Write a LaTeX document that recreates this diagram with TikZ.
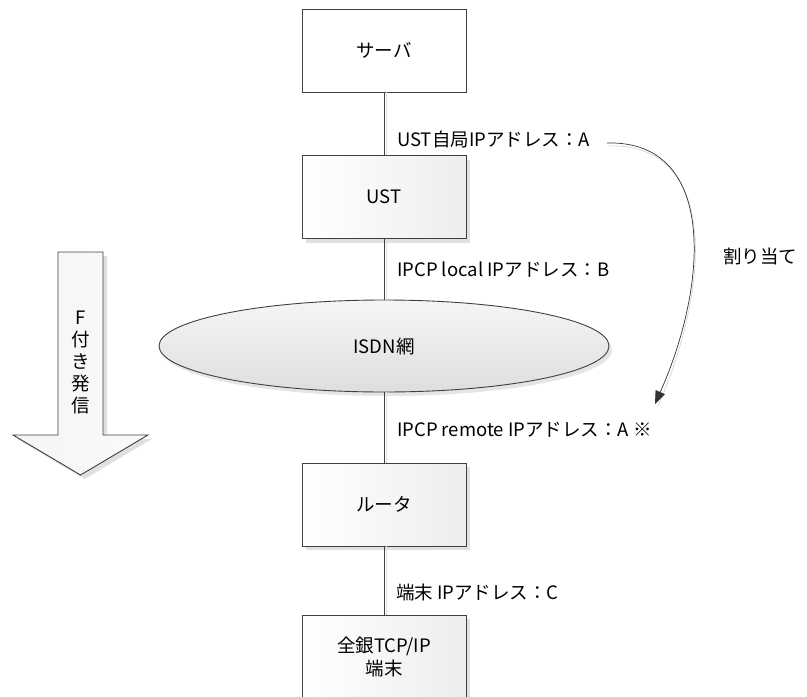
\documentclass[tikz,border=0pt]{standalone}
\usepackage{fontspec}
\setmainfont{Noto Sans CJK JP}
\usetikzlibrary{shapes.geometric,shadows,arrows.meta}
\definecolor{edge}{HTML}{404040}
\tikzset{
  box/.style={draw=edge, line width=0.9pt, minimum width=164pt, minimum height=83pt,
    left color=white, right color=black!7, inner sep=2pt, align=center,
    drop shadow={shadow xshift=4pt, shadow yshift=-4pt, fill=black!12, opacity=1}},
  plainbox/.style={draw=edge, line width=0.9pt, minimum width=164pt, minimum height=83pt, fill=white, align=center},
  lbl/.style={anchor=west, inner sep=0pt},
  link/.style={draw=edge, line width=0.8pt,
    preaction={draw=black!12, line width=0.8pt, transform canvas={xshift=2pt}}},
  txt/.style={font=\fontsize{18.5}{22}\selectfont}
}
\begin{document}
\begin{tikzpicture}[x=1pt,y=-1pt, every node/.style={txt}]
\useasboundingbox (0,0) rectangle (807,697);
% big down arrow
\fill[black!12] (62,256) -- (107,256) -- (107,439) -- (152,439) -- (84.5,479) -- (17,439) -- (62,439) -- cycle;
\draw[edge, line width=0.9pt, left color=black!4, right color=black!2]
  (58,252) -- (103,252) -- (103,435) -- (148,435) -- (80.5,475) -- (13,435) -- (58,435) -- cycle;
\node[align=center, font=\fontsize{18.5}{22}\selectfont] (fdial) at (80.5,362) {F\\付\\き\\発\\信};
% nodes
\node[plainbox] (server) at (384,50.5) {サーバ};
\node[box] (ust) at (384,197) {UST};
\node[ellipse, draw=edge, line width=0.9pt, minimum width=450pt, minimum height=92pt,
  top color=black!4, bottom color=black!13,
  drop shadow={shadow xshift=3pt, shadow yshift=-4pt, fill=black!10, opacity=1}] (isdn) at (384,346) {ISDN網};
\node[box] (router) at (384,504.5) {ルータ};
\node[box, font=\fontsize{18.5}{23}\selectfont] (term) at (384,656.5) {全銀TCP/IP\\端末};
% connectors
\draw[link] (server.south) -- (ust.north);
\draw[link] (ust.south) -- (isdn.north);
\draw[link] (isdn.south) -- (router.north);
\draw[link] (router.south) -- (term.north);
% labels
\node[lbl] (la) at (397,139) {UST自局IPアドレス：A};
\node[lbl] (lb) at (397,270) {IPCP local IPアドレス：B};
\node[lbl] (lc) at (397,430) {IPCP remote IPアドレス：A ※};
\node[lbl] (ld) at (396,592) {端末 IPアドレス：C};
\node[lbl] (assign) at (723,256) {割り当て};
% assignment curve
\coordinate (cs) at (607,143);
\coordinate (ce) at (655,404);
\draw[black!15, line width=0.8pt] (609,146) .. controls (717,143) and (712,283) .. (658,406);
\draw[black!80, line width=0.7pt, -{Triangle[length=13pt,width=10pt]}] (cs) .. controls (715,140) and (710,280) .. (ce);
\end{tikzpicture}
\end{document}
